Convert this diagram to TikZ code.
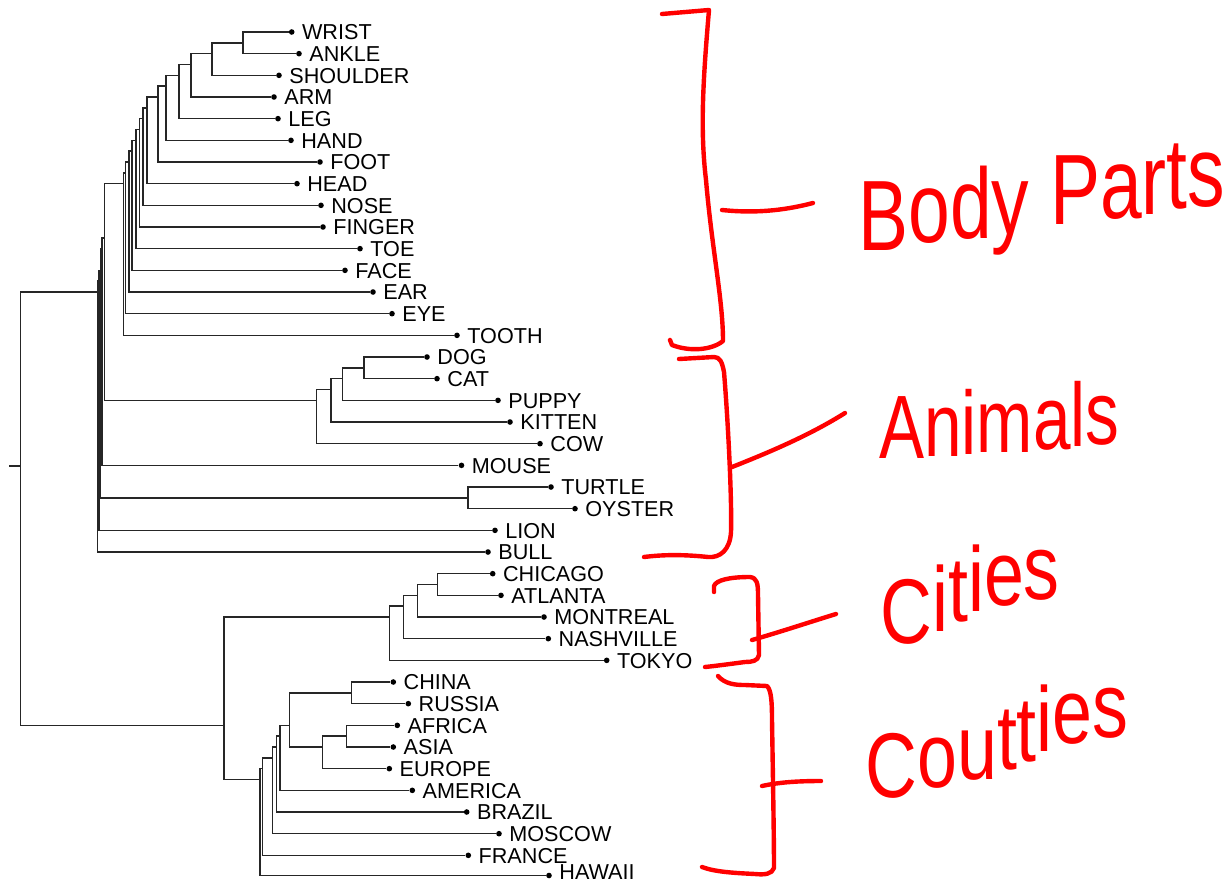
\documentclass[tikz,border=0pt]{standalone}
\usepackage{fontspec}
\usepackage{graphicx}
\setmainfont{Liberation Sans}
\newfontfamily\handfont{Liberation Sans}

% vertical position of the i-th leaf (0 = top)
\newcommand\ty[1]{32+21.667*(#1)}
% one hand-written letter lifted above the line
\newcommand\up[2]{\raisebox{#1}{#2}}

\tikzset{
  tree/.style={draw=black!85, line width=0.75pt},
  dot/.style={circle, fill=black, inner sep=0pt, minimum size=2.8pt},
  lbl/.style={anchor=base west, inner sep=0pt, font=\fontsize{10.8}{12}\selectfont},
  redink/.style={draw=red, line width=2.2pt, line cap=round, line join=round},
  handtext/.style={text=red, inner sep=0pt, anchor=base west}
}

% leaf: name, x of the dot, row index, label
\newcommand\leaf[4]{%
  \node[dot] (#1) at (#2,{\ty{#3}}) {};
  \node[lbl] (#1-t) at ({#2+10},{\ty{#3}+7.7}) {#4};
}

\begin{document}
\begin{tikzpicture}[x=0.5pt, y=-0.5pt]
\fill[white] (0,0) rectangle (1226,884);
\useasboundingbox (0,0) rectangle (1226,884);

% ---------------- leaves ----------------
\leaf{wrist}{291.7}{0}{WRIST}
\leaf{ankle}{299}{1}{ANKLE}
\leaf{shoulder}{279}{2}{SHOULDER}
\leaf{arm}{274}{3}{ARM}
\leaf{leg}{278}{4}{LEG}
\leaf{hand}{291}{5}{HAND}
\leaf{foot}{320}{6}{FOOT}
\leaf{head}{297}{7}{HEAD}
\leaf{nose}{321}{8}{NOSE}
\leaf{finger}{323}{9}{FINGER}
\leaf{toe}{360}{10}{TOE}
\leaf{face}{345}{11}{FACE}
\leaf{ear}{373}{12}{EAR}
\leaf{eye}{392}{13}{EYE}
\leaf{tooth}{457}{14}{TOOTH}
\leaf{dog}{427}{15}{DOG}
\leaf{cat}{437}{16}{CAT}
\leaf{puppy}{498}{17}{PUPPY}
\leaf{kitten}{510}{18}{KITTEN}
\leaf{cow}{540}{19}{COW}
\leaf{mouse}{461.5}{20}{MOUSE}
\leaf{turtle}{551}{21}{TURTLE}
\leaf{oyster}{575}{22}{OYSTER}
\leaf{lion}{495}{23}{LION}
\leaf{bull}{488}{24}{BULL}
\leaf{chicago}{492.7}{25}{CHICAGO}
\leaf{atlanta}{501}{26}{ATLANTA}
\leaf{montreal}{544}{27}{MONTREAL}
\leaf{nashville}{548.3}{28}{NASHVILLE}
\leaf{tokyo}{606.7}{29}{TOKYO}
\leaf{china}{393.3}{30}{CHINA}
\leaf{russia}{408.3}{31}{RUSSIA}
\leaf{africa}{397.3}{32}{AFRICA}
\leaf{asia}{393.3}{33}{ASIA}
\leaf{europe}{389.3}{34}{EUROPE}
\leaf{america}{412.3}{35}{AMERICA}
\leaf{brazil}{466.7}{36}{BRAZIL}
\leaf{moscow}{499}{37}{MOSCOW}
\leaf{france}{468.3}{38}{FRANCE}
% the last row sits right on the lower edge of the page
\node[dot] (hawaii) at (549,875.5) {};
\node[lbl] (hawaii-t) at (559,879.5) {HAWAII};

% ---------------- internal nodes ----------------
% body parts
\coordinate (n1)  at (243,{\ty{0.5}});
\coordinate (n2)  at (212,{\ty{1}});
\coordinate (n3)  at (191,{\ty{1.5}});
\coordinate (n4)  at (179,{\ty{2}});
\coordinate (n5)  at (166,{\ty{2.5}});
\coordinate (n6)  at (158,{\ty{3}});
\coordinate (n7)  at (147,{\ty{3.5}});
\coordinate (n8)  at (143,{\ty{4}});
\coordinate (n9)  at (139.3,{\ty{4.5}});
\coordinate (n10) at (136,{\ty{5}});
\coordinate (n11) at (132,{\ty{5.5}});
\coordinate (n12) at (129,{\ty{6}});
\coordinate (n13) at (125.5,{\ty{6.5}});
\coordinate (n14) at (123.3,{\ty{7}});
% animals
\coordinate (a1) at (364,{\ty{15.5}});
\coordinate (a2) at (342.5,{\ty{16}});
\coordinate (a3) at (331,{\ty{16.5}});
\coordinate (a4) at (316.5,{\ty{17}});
\coordinate (tu) at (468,{\ty{21.5}});
% upper spine
\coordinate (t1) at (104.3,{\ty{9.5}});
\coordinate (t2) at (102,{\ty{10}});
\coordinate (t3) at (100.5,{\ty{11}});
\coordinate (t4) at (99,{\ty{11.5}});
\coordinate (t5) at (97.7,{\ty{12}});
% cities
\coordinate (c1) at (437.3,{\ty{25.5}});
\coordinate (c2) at (417.3,{\ty{26}});
\coordinate (c3) at (403.3,{\ty{26.5}});
\coordinate (c4) at (389.3,{\ty{27}});
% countries
\coordinate (k1) at (351.7,{\ty{30.5}});
\coordinate (k2) at (346.7,{\ty{32.5}});
\coordinate (k3) at (322.7,{\ty{33}});
\coordinate (k4) at (289.3,{\ty{32}});
\coordinate (k5) at (280,{\ty{32.5}});
\coordinate (k6) at (276.7,{\ty{33}});
\coordinate (k7) at (272.5,{\ty{33.5}});
\coordinate (k8) at (262.3,{\ty{34}});
\coordinate (k9) at (260,{\ty{34.5}});
\coordinate (bt) at (224,{\ty{32}});
% root
\coordinate (root) at (20.7,466);
\coordinate (rootstub) at (9,466);

% ---------------- branches ----------------
\draw[tree]
  (n1) |- (wrist)   (n1) |- (ankle)
  (n2) |- (n1)      (n2) |- (shoulder)
  (n3) |- (n2)      (n3) |- (arm)
  (n4) |- (n3)      (n4) |- (leg)
  (n5) |- (n4)      (n5) |- (hand)
  (n6) |- (n5)      (n6) |- (foot)
  (n7) |- (n6)      (n7) |- (head)
  (n8) |- (n7)      (n8) |- (nose)
  (n9) |- (n8)      (n9) |- (finger)
  (n10) |- (n9)     (n10) |- (toe)
  (n11) |- (n10)    (n11) |- (face)
  (n12) |- (n11)    (n12) |- (ear)
  (n13) |- (n12)    (n13) |- (eye)
  (n14) |- (n13)    (n14) |- (tooth);
\draw[tree]
  (a1) |- (dog)     (a1) |- (cat)
  (a2) |- (a1)      (a2) |- (puppy)
  (a3) |- (a2)      (a3) |- (kitten)
  (a4) |- (a3)      (a4) |- (cow)
  (tu) |- (turtle)  (tu) |- (oyster);
\draw[tree]
  (t1) |- (n14)     (t1) |- (a4)
  (t2) |- (t1)      (t2) |- (mouse)
  (t3) |- (t2)      (t3) |- (tu)
  (t4) |- (t3)      (t4) |- (lion)
  (t5) |- (t4)      (t5) |- (bull);
\draw[tree]
  (c1) |- (chicago) (c1) |- (atlanta)
  (c2) |- (c1)      (c2) |- (montreal)
  (c3) |- (c2)      (c3) |- (nashville)
  (c4) |- (c3)      (c4) |- (tokyo);
\draw[tree]
  (k1) |- (china)   (k1) |- (russia)
  (k2) |- (africa)  (k2) |- (asia)
  (k3) |- (k2)      (k3) |- (europe)
  (k4) |- (k1)      (k4) |- (k3)
  (k5) |- (k4)      (k5) |- (america)
  (k6) |- (k5)      (k6) |- (brazil)
  (k7) |- (k6)      (k7) |- (moscow)
  (k8) |- (k7)      (k8) |- (france)
  (k9) |- (k8)      (k9) |- (hawaii)
  (bt) |- (c4)      (bt) |- (k9);
\draw[tree]
  (rootstub) -- (root)
  (root) |- (t5)    (root) |- (bt);

% ---------------- hand-drawn brackets ----------------
% body parts
\draw[redink] (662,14) -- (709,10)
  .. controls (703,80) and (700,130) .. (706,180)
  .. controls (712,250) and (723,300) .. (723,341)
  .. controls (712,350) and (690,352) .. (672,345) -- (670,340);
\draw[redink] (722,210) .. controls (760,214) and (790,209) .. (813,203);
% animals
\draw[redink] (679,359) -- (714,357)
  .. controls (720,357) and (722,362) .. (724,372)
  .. controls (728,420) and (732,500) .. (731,532)
  .. controls (730,550) and (720,558) .. (708,557)
  .. controls (680,554) and (660,555) .. (644,557);
\draw[redink] (732,467) .. controls (770,452) and (810,435) .. (845,413);
% cities
\draw[redink] (714,592) -- (714,586)
  .. controls (716,580) and (730,577) .. (750,577)
  .. controls (757,578) and (758,583) .. (758,595)
  -- (759,655)
  .. controls (758,661) and (752,662) .. (745,662)
  .. controls (730,664) and (715,666) .. (705,667);
\draw[redink] (752,640) .. controls (780,632) and (810,622) .. (836,614);
% countries
\draw[redink] (718,676) .. controls (725,684) and (735,685) .. (745,685)
  -- (767,686)
  .. controls (771,690) and (772,700) .. (772,720)
  .. controls (773,780) and (774,840) .. (774,868)
  .. controls (772,874) and (765,875) .. (755,874)
  .. controls (735,873) and (715,872) .. (702,867);
\draw[redink] (762,786) .. controls (780,782) and (800,781) .. (821,781);

% ---------------- hand-written group names ----------------
\node[handtext] (bodyparts) at (858,250)
  {\scalebox{0.75}[1]{\handfont\fontsize{50}{60}\selectfont
   \up{0pt}{B}\up{4pt}{o}\up{6pt}{d}\up{8pt}{y}\ \up{13pt}{P}\up{16pt}{a}\up{18pt}{r}\up{21pt}{t}\up{22pt}{s}}};
\node[handtext] (animals) at (879,458)
  {\scalebox{0.75}[1]{\handfont\fontsize{45}{54}\selectfont
   \up{0pt}{A}\up{1pt}{n}\up{2pt}{i}\up{3pt}{m}\up{4.5pt}{a}\up{6pt}{l}\up{7pt}{s}}};
\node[handtext] (cities) at (880,643)
  {\scalebox{0.78}[1]{\handfont\fontsize{46}{55}\selectfont
   \up{0pt}{C}\up{6pt}{i}\up{11pt}{t}\up{16pt}{i}\up{19pt}{e}\up{22pt}{s}}};
\node[handtext] (countries) at (865,797)
  {\scalebox{0.78}[1]{\handfont\fontsize{46}{55}\selectfont
   \up{0pt}{C}\up{5pt}{o}\up{9pt}{u}\up{14pt}{t}\up{18pt}{t}\up{23pt}{i}\up{27pt}{e}\up{30pt}{s}}};
\end{tikzpicture}
\end{document}
